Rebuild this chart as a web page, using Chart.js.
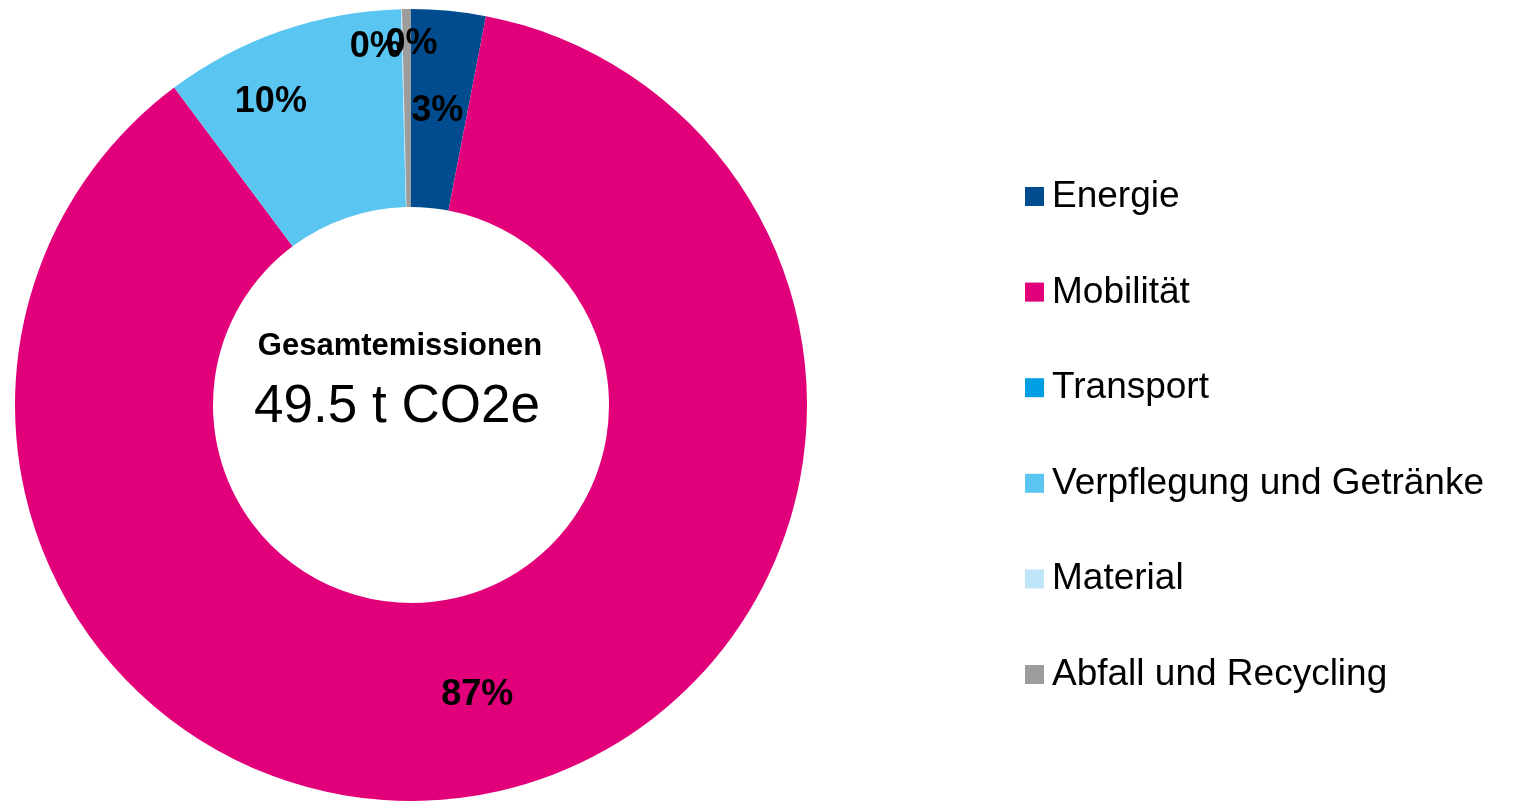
<!DOCTYPE html>
<html>
<head>
<meta charset="utf-8">
<script src="https://cdn.jsdelivr.net/npm/chart.js@4.4.1/dist/chart.umd.min.js"></script>
<style>
  html, body { margin: 0; padding: 0; background: #fff; }
  #wrap { width: 1518px; height: 801px; position: relative; }
</style>
</head>
<body>
<div id="wrap"><canvas id="co2Chart"></canvas></div>
<script>
// Kategorien und Werte (t CO2e)
const categories = ['Energie', 'Mobilität', 'Transport', 'Verpflegung und Getränke', 'Material', 'Abfall und Recycling'];
const emissions = [1.50, 42.95, 0, 4.85, 0.02, 0.18];
const sliceColors = ['#004C8E', '#E2007A', '#009FE3', '#5BC5F2', '#BEE6F8', '#9D9D9D'];
const centerTitle = 'Gesamtemissionen';
const centerValue = '49.5 t CO2e';

// kleine Verschiebungen der Beschriftungen (wie im Original von Hand verschoben)
const labelNudge = [[-2, 2], [0, 1], [0, 0], [-43, -22], [-28, -61], [4, -64]];

const FONT = '"Liberation Sans", Arial, sans-serif';

const sliceLabels = {
    id: 'sliceLabels',
    afterDatasetsDraw(chart) {
        const ctx = chart.ctx;
        const data = chart.data.datasets[0].data;
        const total = data.reduce((a, b) => a + b, 0);
        const arcs = chart.getDatasetMeta(0).data;
        ctx.save();
        ctx.font = 'bold 36px ' + FONT;
        ctx.fillStyle = '#000';
        ctx.textAlign = 'center';
        ctx.textBaseline = 'middle';
        arcs.forEach((arc, i) => {
            if (!data[i]) return;
            const pos = arc.tooltipPosition();
            const pct = Math.round(data[i] / total * 100) + '%';
            ctx.fillText(pct, pos.x + labelNudge[i][0], pos.y + labelNudge[i][1]);
        });
        ctx.restore();
    }
};

const centerText = {
    id: 'centerText',
    afterDraw(chart) {
        const ctx = chart.ctx;
        const arc = chart.getDatasetMeta(0).data[0];
        const cx = arc.x;
        const cy = arc.y;
        ctx.save();
        ctx.fillStyle = '#000';
        ctx.textAlign = 'center';
        ctx.textBaseline = 'alphabetic';
        ctx.font = 'bold 31px ' + FONT;
        ctx.fillText(centerTitle, cx - 11, cy - 50);
        ctx.font = '53px ' + FONT;
        ctx.fillText(centerValue, cx - 14, cy + 17);
        ctx.restore();
    }
};

const sideLegend = {
    id: 'sideLegend',
    afterDraw(chart) {
        const ctx = chart.ctx;
        const ds = chart.data.datasets[0];
        ctx.save();
        ctx.font = '37px ' + FONT;
        ctx.textAlign = 'left';
        ctx.textBaseline = 'alphabetic';
        chart.data.labels.forEach((label, i) => {
            const y = 207 + i * 95.6;
            ctx.fillStyle = ds.backgroundColor[i];
            ctx.fillRect(1025, y - 20, 19, 19);
            ctx.fillStyle = '#000';
            ctx.fillText(label, 1052, y);
        });
        ctx.restore();
    }
};

new Chart(document.getElementById('co2Chart').getContext('2d'), {
    type: 'doughnut',
    data: {
        labels: categories,
        datasets: [{
            data: emissions,
            backgroundColor: sliceColors,
            borderWidth: 0,
            hoverOffset: 0
        }]
    },
    options: {
        responsive: true,
        maintainAspectRatio: false,
        animation: false,
        cutout: '50%',
        layout: {
            padding: { left: 15, top: 9, right: 711, bottom: 0 }
        },
        plugins: {
            legend: { display: false },
            tooltip: { enabled: false }
        }
    },
    plugins: [sliceLabels, centerText, sideLegend]
});
</script>
</body>
</html>
